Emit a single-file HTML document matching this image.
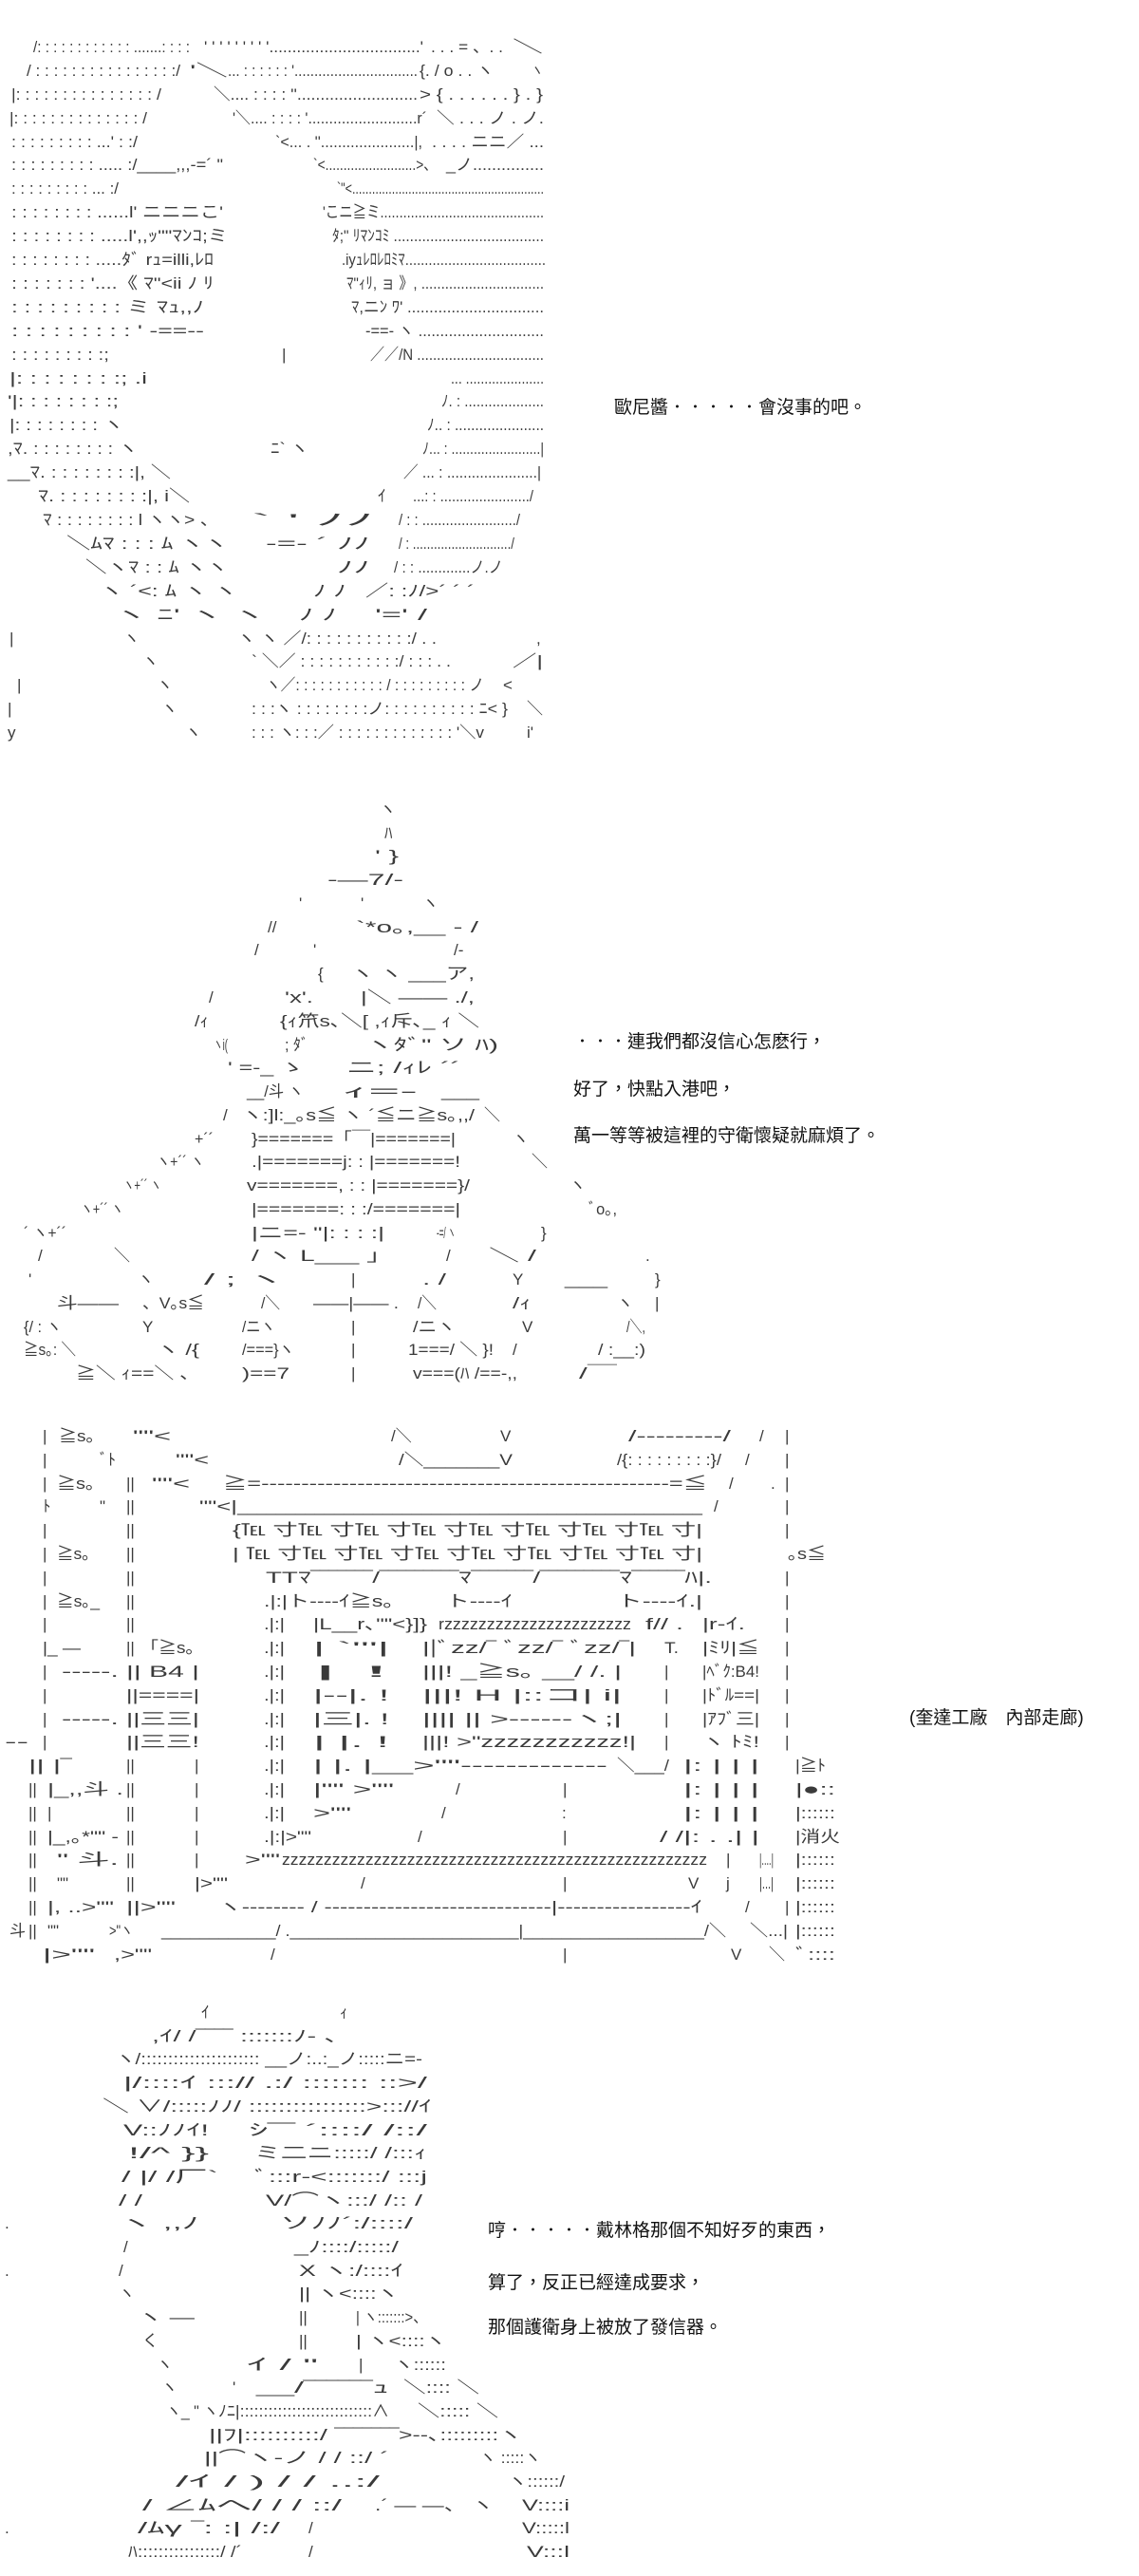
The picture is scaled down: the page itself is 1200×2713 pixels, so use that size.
<!DOCTYPE html>
<html><head><meta charset="utf-8">
<style>
html,body{margin:0;padding:0;background:#fff;}
body{width:1200px;height:2713px;position:relative;overflow:hidden;}
svg{position:absolute;left:0;top:0;}
svg text{font-family:"Liberation Sans","Noto Sans CJK JP",sans-serif;font-size:17px;fill:#3a3a3a;}
.t{position:absolute;font-family:"Liberation Sans","Noto Sans CJK TC",sans-serif;font-size:19px;color:#111;white-space:nowrap;line-height:24px;}
</style></head><body>
<svg width="1200" height="2713" xmlns="http://www.w3.org/2000/svg">
<g>
<!-- Section 1 -->
<text x="35" y="55" textLength="165" lengthAdjust="spacingAndGlyphs">/: : : : : : : : : : : : .......: : : :</text>
<text x="215" y="55" textLength="231" lengthAdjust="spacingAndGlyphs">' ' ' ' ' ' ' ' '.................................'</text>
<text x="454" y="55" textLength="76" lengthAdjust="spacingAndGlyphs">. . . = 、. .</text>
<text x="540" y="55" textLength="32" lengthAdjust="spacingAndGlyphs">＼</text>
<text x="28" y="80" textLength="162" lengthAdjust="spacingAndGlyphs">/ : : : : : : : : : : : : : : : :/</text>
<text x="200" y="80" textLength="40" lengthAdjust="spacingAndGlyphs">'＼</text>
<text x="240" y="80" textLength="200" lengthAdjust="spacingAndGlyphs">... : : : : : : '...............................</text>
<text x="442" y="80" textLength="78" lengthAdjust="spacingAndGlyphs">{. / o . .  ヽ</text>
<text x="560" y="80" textLength="12" lengthAdjust="spacingAndGlyphs">ヽ</text>
<text x="12" y="105" textLength="158" lengthAdjust="spacingAndGlyphs">|: : : : : : : : : : : : : : : /</text>
<text x="225" y="105" textLength="215" lengthAdjust="spacingAndGlyphs">＼.... : : : : ''..........................</text>
<text x="442" y="105" textLength="130" lengthAdjust="spacingAndGlyphs">&gt; {  . . . . . . } . }</text>
<text x="10" y="130" textLength="145" lengthAdjust="spacingAndGlyphs">|: : : : : : : : : : : : : : /</text>
<text x="245" y="130" textLength="205" lengthAdjust="spacingAndGlyphs">'＼.... : : : : '..........................r´</text>
<text x="460" y="130" textLength="113" lengthAdjust="spacingAndGlyphs">＼ . . . ノ . ノ.</text>
<text x="12" y="155" textLength="133" lengthAdjust="spacingAndGlyphs">: : : : : : : : : ...' : :/</text>
<text x="290" y="155" textLength="155" lengthAdjust="spacingAndGlyphs">`&lt;... . ''......................|,</text>
<text x="455" y="155" textLength="118" lengthAdjust="spacingAndGlyphs">. . . . ニニ／ ...</text>
<text x="12" y="179" textLength="223" lengthAdjust="spacingAndGlyphs">: : : : : : : : : ..... :/____,,,-=´ "</text>
<text x="330" y="179" textLength="130" lengthAdjust="spacingAndGlyphs">`&lt;.........................&gt;、</text>
<text x="470" y="179" textLength="103" lengthAdjust="spacingAndGlyphs">_ノ...............</text>
<text x="12" y="204" textLength="113" lengthAdjust="spacingAndGlyphs">: : : : : : : : : ... :/</text>
<text x="355" y="204" textLength="218" lengthAdjust="spacingAndGlyphs">`"&lt;..........................................................</text>
<text x="12" y="229" textLength="223" lengthAdjust="spacingAndGlyphs">: : : : : : : : ......l'      ニニニこ'</text>
<text x="340" y="229" textLength="233" lengthAdjust="spacingAndGlyphs">'こニ≧ミ...........................................</text>
<text x="12" y="254" textLength="228" lengthAdjust="spacingAndGlyphs">: : : : : : : : .....l',,ｯ""ﾏﾝｺ;ミ</text>
<text x="350" y="254" textLength="223" lengthAdjust="spacingAndGlyphs">ﾀ;"   ﾘﾏﾝｺﾐ .....................................</text>
<text x="12" y="279" textLength="213" lengthAdjust="spacingAndGlyphs">: : : : : : : : .....ﾀﾞ   rｭ=illi,ﾚﾛ</text>
<text x="360" y="279" textLength="215" lengthAdjust="spacingAndGlyphs">.iyｭﾚﾛﾚﾛﾐﾏ....................................</text>
<text x="12" y="304" textLength="213" lengthAdjust="spacingAndGlyphs">: : : : : : : '....《   ﾏ"&lt;ii ﾉ  ﾘ</text>
<text x="365" y="304" textLength="208" lengthAdjust="spacingAndGlyphs">ﾏ"ｨﾘ, ョ   》, ...............................</text>
<text x="12" y="329" textLength="203" lengthAdjust="spacingAndGlyphs">: : : : : : : : :      ミ   ﾏｭ,,ﾉ</text>
<text x="370" y="329" textLength="203" lengthAdjust="spacingAndGlyphs">ﾏ,ニﾝ   ﾜ' ...............................</text>
<text x="12" y="354" textLength="203" lengthAdjust="spacingAndGlyphs">: : : : : : : : :        '   -==--</text>
<text x="385" y="354" textLength="188" lengthAdjust="spacingAndGlyphs">-==-    ヽ    .............................</text>
<text x="12" y="379" textLength="103" lengthAdjust="spacingAndGlyphs">: : : : : : : : :;</text>
<text x="297" y="379">|</text>
<text x="390" y="379" textLength="183" lengthAdjust="spacingAndGlyphs">／／/N    ................................</text>
<text x="10" y="404" textLength="145" lengthAdjust="spacingAndGlyphs">|: : : : : : : :;     .i</text>
<text x="475" y="404" textLength="98" lengthAdjust="spacingAndGlyphs">...  .....................</text>
<text x="8" y="428" textLength="117" lengthAdjust="spacingAndGlyphs">'|: : : : : : : :;</text>
<text x="465" y="428" textLength="108" lengthAdjust="spacingAndGlyphs">ﾉ. :  ....................</text>
<text x="10" y="453" textLength="120" lengthAdjust="spacingAndGlyphs">|: : : : : : : : ヽ</text>
<text x="450" y="453" textLength="123" lengthAdjust="spacingAndGlyphs">ﾉ.. :  ......................</text>
<text x="8" y="478" textLength="137" lengthAdjust="spacingAndGlyphs">,ﾏ. : : : : : : : : ヽ</text>
<text x="285" y="478" textLength="40" lengthAdjust="spacingAndGlyphs">ﾆ` ヽ</text>
<text x="445" y="478" textLength="128" lengthAdjust="spacingAndGlyphs">ﾉ... : ........................|</text>
<text x="8" y="503" textLength="172" lengthAdjust="spacingAndGlyphs">__ﾏ. : : : : : : : :|, ＼</text>
<text x="425" y="503" textLength="145" lengthAdjust="spacingAndGlyphs">／  ... : ......................|</text>
<text x="40" y="528" textLength="160" lengthAdjust="spacingAndGlyphs">ﾏ. : : : : : : : :|,   i＼</text>
<text x="398" y="528">ｲ</text>
<text x="435" y="528" textLength="127" lengthAdjust="spacingAndGlyphs">...: : ......................./</text>
<text x="45" y="553" textLength="185" lengthAdjust="spacingAndGlyphs">ﾏ : : : : : : : : l    ヽヽ&gt; 、</text>
<text x="265" y="553" textLength="130" lengthAdjust="spacingAndGlyphs">`        '   ﾉﾉ</text>
<text x="420" y="553" textLength="128" lengthAdjust="spacingAndGlyphs">/ : : ......................../</text>
<text x="70" y="578" textLength="170" lengthAdjust="spacingAndGlyphs">＼ﾑﾏ : : : ﾑ    ヽヽ</text>
<text x="280" y="578" textLength="110" lengthAdjust="spacingAndGlyphs">-=-  ´   ﾉﾉ</text>
<text x="420" y="578" textLength="122" lengthAdjust="spacingAndGlyphs">/ : ............................/</text>
<text x="90" y="603" textLength="150" lengthAdjust="spacingAndGlyphs">＼ヽﾏ : : ﾑ    ヽヽ</text>
<text x="355" y="603" textLength="35" lengthAdjust="spacingAndGlyphs">ﾉﾉ</text>
<text x="415" y="603" textLength="115" lengthAdjust="spacingAndGlyphs">/ : : .............ノ.ノ</text>
<text x="105" y="628" textLength="145" lengthAdjust="spacingAndGlyphs">ヽ   ´&lt;: ﾑ ヽ ヽ</text>
<text x="330" y="628" textLength="35" lengthAdjust="spacingAndGlyphs">ﾉ ﾉ</text>
<text x="385" y="628" textLength="115" lengthAdjust="spacingAndGlyphs">／: :ﾉ/&gt;´ ´ ´</text>
<text x="120" y="653" textLength="160" lengthAdjust="spacingAndGlyphs">ヽ         ﾆ'  ヽ  ヽ</text>
<text x="315" y="653" textLength="40" lengthAdjust="spacingAndGlyphs">ﾉ ﾉ</text>
<text x="395" y="653" textLength="55" lengthAdjust="spacingAndGlyphs">'='    /</text>
<text x="10" y="678">|</text>
<text x="130" y="678">ヽ</text>
<text x="250" y="678" textLength="210" lengthAdjust="spacingAndGlyphs">ヽ  ヽ  ／/: : : : : : : : : : :/ . .</text>
<text x="565" y="678">,</text>
<text x="150" y="702">ヽ</text>
<text x="265" y="702" textLength="210" lengthAdjust="spacingAndGlyphs">` ＼／ : : : : : : : : : : :/ : : : .   .</text>
<text x="540" y="702" textLength="32" lengthAdjust="spacingAndGlyphs">／|</text>
<text x="18" y="727">|</text>
<text x="165" y="727">ヽ</text>
<text x="280" y="727" textLength="230" lengthAdjust="spacingAndGlyphs">ヽ／: : : : : : : : : : : / : : : : : : : : : ノ</text>
<text x="530" y="727">&lt;</text>
<text x="8" y="752">|</text>
<text x="170" y="752">ヽ</text>
<text x="265" y="752" textLength="270" lengthAdjust="spacingAndGlyphs">: : :ヽ : : : : : : : :ノ: : : : : : : : : : ﾆ&lt;   }</text>
<text x="555" y="752">＼</text>
<text x="8" y="777">y</text>
<text x="195" y="777">ヽ</text>
<text x="265" y="777" textLength="245" lengthAdjust="spacingAndGlyphs">: : : ヽ: : :／ : : : : : : : : : : : : : '＼v</text>
<text x="555" y="777">i'</text>

<!-- Section 2 -->
<text x="400" y="858">ヽ</text>
<text x="405" y="883">ﾊ</text>
<text x="395" y="907" textLength="25" lengthAdjust="spacingAndGlyphs">'  }</text>
<text x="345" y="932" textLength="80" lengthAdjust="spacingAndGlyphs">-―7/-</text>
<text x="315" y="957">'</text><text x="380" y="957">'</text><text x="445" y="957">ヽ</text>
<text x="282" y="982">//</text>
<text x="375" y="982" textLength="129" lengthAdjust="spacingAndGlyphs">`*o｡,__   -  /</text>
<text x="268" y="1006">/</text><text x="330" y="1006">'</text><text x="478" y="1006">/-</text>
<text x="335" y="1031">{</text>
<text x="370" y="1031" textLength="130" lengthAdjust="spacingAndGlyphs">ヽ  ヽ   ___ア,</text>
<text x="220" y="1056">/</text>
<text x="300" y="1056" textLength="30" lengthAdjust="spacingAndGlyphs">'x'.</text>
<text x="380" y="1056" textLength="120" lengthAdjust="spacingAndGlyphs">|＼    ――  ./,</text>
<text x="205" y="1081" textLength="15" lengthAdjust="spacingAndGlyphs">/ｨ</text>
<text x="295" y="1081" textLength="210" lengthAdjust="spacingAndGlyphs">{ｨ笊s､＼[  ,ｨ斥､_ ｨ  ＼</text>
<text x="225" y="1106" textLength="15" lengthAdjust="spacingAndGlyphs">ヽi(</text>
<text x="300" y="1106" textLength="25" lengthAdjust="spacingAndGlyphs">; ﾀﾞ</text>
<text x="385" y="1106" textLength="140" lengthAdjust="spacingAndGlyphs">ヽﾀﾞ" ソ    ﾊ)</text>
<text x="240" y="1130" textLength="80" lengthAdjust="spacingAndGlyphs">'  =-_ ゝ</text>
<text x="365" y="1130" textLength="120" lengthAdjust="spacingAndGlyphs">ニ;     /ｨﾚ ´´</text>
<text x="260" y="1155" textLength="60" lengthAdjust="spacingAndGlyphs">__/斗 ヽ</text>
<text x="360" y="1155" textLength="80" lengthAdjust="spacingAndGlyphs">ｨ=-</text>
<text x="465" y="1155" textLength="40" lengthAdjust="spacingAndGlyphs">___</text>
<text x="235" y="1180">/</text>
<text x="255" y="1180" textLength="245" lengthAdjust="spacingAndGlyphs">ヽ:]l:_｡s≦ ヽ ´≦ニ≧s｡,,/</text>
<text x="510" y="1180">＼</text>
<text x="205" y="1205" textLength="20" lengthAdjust="spacingAndGlyphs">+´´</text>
<text x="265" y="1205" textLength="215" lengthAdjust="spacingAndGlyphs">}=======「￣|=======|</text>
<text x="540" y="1205">ヽ</text>
<text x="165" y="1229" textLength="50" lengthAdjust="spacingAndGlyphs">ヽ+´´ ヽ</text>
<text x="265" y="1229" textLength="220" lengthAdjust="spacingAndGlyphs">.|=======j: : |=======!</text>
<text x="560" y="1229">＼</text>
<text x="130" y="1254" textLength="40" lengthAdjust="spacingAndGlyphs">ヽ+´´ ヽ</text>
<text x="260" y="1254" textLength="235" lengthAdjust="spacingAndGlyphs">v=======, : : |=======}/</text>
<text x="600" y="1254">ヽ</text>
<text x="85" y="1279" textLength="45" lengthAdjust="spacingAndGlyphs">ヽ+´´ ヽ</text>
<text x="265" y="1279" textLength="220" lengthAdjust="spacingAndGlyphs">|=======: : :/=======|</text>
<text x="620" y="1279" textLength="30" lengthAdjust="spacingAndGlyphs">ﾞo｡,</text>
<text x="25" y="1304" textLength="45" lengthAdjust="spacingAndGlyphs">´  ヽ+´´</text>
<text x="265" y="1304" textLength="140" lengthAdjust="spacingAndGlyphs">|ニ=-  "|: : : :|</text>
<text x="460" y="1304" textLength="20" lengthAdjust="spacingAndGlyphs">-=/ ヽ</text>
<text x="570" y="1304">}</text>
<text x="40" y="1328">/</text><text x="120" y="1328">＼</text>
<text x="265" y="1328" textLength="135" lengthAdjust="spacingAndGlyphs">/ ヽ    L___ ｣</text>
<text x="470" y="1328">/</text>
<text x="515" y="1328" textLength="50" lengthAdjust="spacingAndGlyphs">＼   /</text>
<text x="680" y="1328">.</text>
<text x="30" y="1353">'</text><text x="145" y="1353">ヽ</text>
<text x="215" y="1353" textLength="85" lengthAdjust="spacingAndGlyphs">/      ;  ヽ</text>
<text x="370" y="1353">|</text>
<text x="445" y="1353" textLength="25" lengthAdjust="spacingAndGlyphs">. /</text>
<text x="540" y="1353">Y</text>
<text x="595" y="1353" textLength="45" lengthAdjust="spacingAndGlyphs">___</text>
<text x="690" y="1353">}</text>
<text x="60" y="1378" textLength="65" lengthAdjust="spacingAndGlyphs">斗――</text>
<text x="150" y="1378" textLength="65" lengthAdjust="spacingAndGlyphs">、V｡s≦</text>
<text x="275" y="1378" textLength="20" lengthAdjust="spacingAndGlyphs">/＼</text>
<text x="330" y="1378" textLength="90" lengthAdjust="spacingAndGlyphs">――|――   .</text>
<text x="440" y="1378" textLength="20" lengthAdjust="spacingAndGlyphs">/＼</text>
<text x="540" y="1378" textLength="20" lengthAdjust="spacingAndGlyphs">/ｨ</text>
<text x="650" y="1378">ヽ</text><text x="690" y="1378">|</text>
<text x="25" y="1403" textLength="40" lengthAdjust="spacingAndGlyphs">{/ : ヽ</text>
<text x="150" y="1403">Y</text>
<text x="255" y="1403" textLength="35" lengthAdjust="spacingAndGlyphs">/ニヽ</text>
<text x="370" y="1403">|</text>
<text x="435" y="1403" textLength="45" lengthAdjust="spacingAndGlyphs">/ニヽ</text>
<text x="550" y="1403">V</text>
<text x="660" y="1403" textLength="20" lengthAdjust="spacingAndGlyphs">/＼,</text>
<text x="25" y="1427" textLength="55" lengthAdjust="spacingAndGlyphs">≧s｡: ＼</text>
<text x="165" y="1427" textLength="45" lengthAdjust="spacingAndGlyphs">ヽ    /{</text>
<text x="255" y="1427" textLength="55" lengthAdjust="spacingAndGlyphs">/===}ヽ</text>
<text x="370" y="1427">|</text>
<text x="430" y="1427" textLength="90" lengthAdjust="spacingAndGlyphs">1===/ ＼ }!</text>
<text x="540" y="1427">/</text>
<text x="630" y="1427" textLength="50" lengthAdjust="spacingAndGlyphs">/ :__:)</text>
<text x="80" y="1452" textLength="130" lengthAdjust="spacingAndGlyphs">≧＼   ｨ==＼  、</text>
<text x="255" y="1452" textLength="50" lengthAdjust="spacingAndGlyphs">)==7</text>
<text x="370" y="1452">|</text>
<text x="435" y="1452" textLength="110" lengthAdjust="spacingAndGlyphs">v===(ﾊ  /==-,,</text>
<text x="610" y="1452" textLength="40" lengthAdjust="spacingAndGlyphs">/￣</text>

<!-- Section 3 -->
<text x="45" y="1518">|</text><text x="62" y="1518" textLength="38" lengthAdjust="spacingAndGlyphs">≧s｡</text>
<text x="140" y="1518" textLength="40" lengthAdjust="spacingAndGlyphs">""&lt;</text>
<text x="412" y="1518">/＼</text><text x="527" y="1518">V</text>
<text x="662" y="1518" textLength="108" lengthAdjust="spacingAndGlyphs">/---------/</text>
<text x="800" y="1518">/</text><text x="827" y="1518">|</text>
<text x="45" y="1543">|</text><text x="105" y="1543">ﾞﾄ</text>
<text x="185" y="1543" textLength="35" lengthAdjust="spacingAndGlyphs">""&lt;</text>
<text x="420" y="1543" textLength="120" lengthAdjust="spacingAndGlyphs">/＼_______V</text>
<text x="650" y="1543" textLength="110" lengthAdjust="spacingAndGlyphs">/{: : : : : : : : :}/</text>
<text x="785" y="1543">/</text><text x="827" y="1543">|</text>
<text x="45" y="1568">|</text><text x="60" y="1568" textLength="40" lengthAdjust="spacingAndGlyphs">≧s｡</text>
<text x="133" y="1568">||</text>
<text x="160" y="1568" textLength="40" lengthAdjust="spacingAndGlyphs">""&lt;</text>
<text x="235" y="1568" textLength="510" lengthAdjust="spacingAndGlyphs">≧=---------------------------------------------------=≦</text>
<text x="768" y="1568">/</text><text x="812" y="1568">.</text><text x="827" y="1568">|</text>
<text x="45" y="1592">ﾄ</text><text x="105" y="1592">"</text><text x="133" y="1592">||</text>
<text x="210" y="1592" textLength="40" lengthAdjust="spacingAndGlyphs">""&lt;|</text>
<text x="250" y="1592" textLength="490" lengthAdjust="spacingAndGlyphs">________________________________________________</text>
<text x="752" y="1592">/</text><text x="827" y="1592">|</text>
<text x="45" y="1617">|</text><text x="133" y="1617">||</text>
<text x="245" y="1617" textLength="495" lengthAdjust="spacingAndGlyphs">{℡  寸℡  寸℡  寸℡  寸℡  寸℡  寸℡  寸℡  寸|</text>
<text x="827" y="1617">|</text>
<text x="45" y="1642">|</text><text x="60" y="1642" textLength="35" lengthAdjust="spacingAndGlyphs">≧s｡</text><text x="133" y="1642">||</text>
<text x="245" y="1642" textLength="495" lengthAdjust="spacingAndGlyphs">| ℡  寸℡  寸℡  寸℡  寸℡  寸℡  寸℡  寸℡  寸|</text>
<text x="830" y="1642" textLength="40" lengthAdjust="spacingAndGlyphs">｡s≦</text>
<text x="45" y="1667">|</text><text x="133" y="1667">||</text>
<text x="280" y="1667" textLength="470" lengthAdjust="spacingAndGlyphs">TTﾏ‾‾‾‾‾‾‾/‾‾‾‾‾‾‾‾‾ﾏ‾‾‾‾‾‾‾/‾‾‾‾‾‾‾‾‾ﾏ‾‾‾‾‾‾ﾊ|.</text>
<text x="827" y="1667">|</text>
<text x="45" y="1692">|</text><text x="60" y="1692" textLength="45" lengthAdjust="spacingAndGlyphs">≧s｡_</text><text x="133" y="1692">||</text>
<text x="278" y="1692" textLength="137" lengthAdjust="spacingAndGlyphs">.|:|ト----ｲ≧s｡</text>
<text x="470" y="1692" textLength="70" lengthAdjust="spacingAndGlyphs">ト----ｲ</text>
<text x="650" y="1692" textLength="90" lengthAdjust="spacingAndGlyphs">ト----ｲ.|</text>
<text x="827" y="1692">|</text>
<text x="45" y="1716">|</text><text x="133" y="1716">||</text>
<text x="278" y="1716" textLength="22" lengthAdjust="spacingAndGlyphs">.|:|</text>
<text x="330" y="1716" textLength="120" lengthAdjust="spacingAndGlyphs">|L__r､""&lt;}]}</text>
<text x="462" y="1716" textLength="203" lengthAdjust="spacingAndGlyphs">rzzzzzzzzzzzzzzzzzzzzzz</text>
<text x="680" y="1716" textLength="40" lengthAdjust="spacingAndGlyphs">f// .</text>
<text x="740" y="1716" textLength="45" lengthAdjust="spacingAndGlyphs">|r-ｲ.</text>
<text x="827" y="1716">|</text>
<text x="45" y="1741" textLength="40" lengthAdjust="spacingAndGlyphs">|_ ―</text><text x="133" y="1741">||</text>
<text x="148" y="1741" textLength="57" lengthAdjust="spacingAndGlyphs">「≧s｡</text>
<text x="278" y="1741" textLength="22" lengthAdjust="spacingAndGlyphs">.|:|</text>
<text x="330" y="1741" textLength="80" lengthAdjust="spacingAndGlyphs">|   `'''|</text>
<text x="445" y="1741" textLength="225" lengthAdjust="spacingAndGlyphs">||ﾞzz/‾ ﾞzz/‾ ﾞzz/‾|</text>
<text x="700" y="1741" textLength="15" lengthAdjust="spacingAndGlyphs">T.</text>
<text x="740" y="1741" textLength="60" lengthAdjust="spacingAndGlyphs">|ﾐﾘ|≦</text>
<text x="827" y="1741">|</text>
<text x="45" y="1766">|</text><text x="65" y="1766" textLength="60" lengthAdjust="spacingAndGlyphs">-----.</text>
<text x="133" y="1766" textLength="77" lengthAdjust="spacingAndGlyphs">|| B4 |</text>
<text x="278" y="1766" textLength="22" lengthAdjust="spacingAndGlyphs">.|:|</text>
<text x="330" y="1766" textLength="80" lengthAdjust="spacingAndGlyphs">|     !</text>
<text x="445" y="1766" textLength="210" lengthAdjust="spacingAndGlyphs">|||! _≧s｡    __/ /. |</text>
<text x="700" y="1766">|</text>
<text x="740" y="1766" textLength="60" lengthAdjust="spacingAndGlyphs">|ﾍﾞｸ:B4!</text>
<text x="827" y="1766">|</text>
<text x="45" y="1791">|</text>
<text x="133" y="1791" textLength="77" lengthAdjust="spacingAndGlyphs">||====|</text>
<text x="278" y="1791" textLength="22" lengthAdjust="spacingAndGlyphs">.|:|</text>
<text x="330" y="1791" textLength="80" lengthAdjust="spacingAndGlyphs">|--|.   !</text>
<text x="445" y="1791" textLength="210" lengthAdjust="spacingAndGlyphs">|||! H    |::コ|  i|</text>
<text x="700" y="1791">|</text>
<text x="740" y="1791" textLength="60" lengthAdjust="spacingAndGlyphs">|ﾄﾞﾙ==|</text>
<text x="827" y="1791">|</text>
<text x="45" y="1816">|</text><text x="65" y="1816" textLength="60" lengthAdjust="spacingAndGlyphs">-----.</text>
<text x="133" y="1816" textLength="77" lengthAdjust="spacingAndGlyphs">||三三|</text>
<text x="278" y="1816" textLength="22" lengthAdjust="spacingAndGlyphs">.|:|</text>
<text x="330" y="1816" textLength="80" lengthAdjust="spacingAndGlyphs">|三|.   !</text>
<text x="445" y="1816" textLength="210" lengthAdjust="spacingAndGlyphs">|||| ||   &gt;‐‐‐‐‐‐ヽ;|</text>
<text x="700" y="1816">|</text>
<text x="740" y="1816" textLength="60" lengthAdjust="spacingAndGlyphs">|ｱﾌﾞ三|</text>
<text x="827" y="1816">|</text>
<text x="5" y="1840" textLength="25" lengthAdjust="spacingAndGlyphs">--</text>
<text x="45" y="1840">|</text>
<text x="133" y="1840" textLength="77" lengthAdjust="spacingAndGlyphs">||三三!</text>
<text x="278" y="1840" textLength="22" lengthAdjust="spacingAndGlyphs">.|:|</text>
<text x="330" y="1840" textLength="80" lengthAdjust="spacingAndGlyphs">|  |.   !</text>
<text x="445" y="1840" textLength="225" lengthAdjust="spacingAndGlyphs">|||!  &gt;"zzzzzzzzzzz!|</text>
<text x="700" y="1840">|</text>
<text x="740" y="1840" textLength="60" lengthAdjust="spacingAndGlyphs">ヽ ﾄﾐ!</text>
<text x="827" y="1840">|</text>
<text x="30" y="1865" textLength="45" lengthAdjust="spacingAndGlyphs">|| |‾</text><text x="133" y="1865">||</text><text x="205" y="1865">|</text>
<text x="278" y="1865" textLength="22" lengthAdjust="spacingAndGlyphs">.|:|</text>
<text x="330" y="1865" textLength="155" lengthAdjust="spacingAndGlyphs">|  |.  |__&gt;""</text>
<text x="485" y="1865" textLength="155" lengthAdjust="spacingAndGlyphs">-------------</text>
<text x="650" y="1865" textLength="55" lengthAdjust="spacingAndGlyphs">＼___/</text>
<text x="720" y="1865" textLength="80" lengthAdjust="spacingAndGlyphs">|: |  |  |</text>
<text x="838" y="1865" textLength="32" lengthAdjust="spacingAndGlyphs">|≧ﾄ</text>
<text x="30" y="1890">||</text>
<text x="50" y="1890" textLength="80" lengthAdjust="spacingAndGlyphs">|_,,斗 .</text><text x="133" y="1890">||</text><text x="205" y="1890">|</text>
<text x="278" y="1890" textLength="22" lengthAdjust="spacingAndGlyphs">.|:|</text>
<text x="330" y="1890" textLength="85" lengthAdjust="spacingAndGlyphs">|""  &gt;""</text>
<text x="480" y="1890">/</text><text x="593" y="1890">|</text>
<text x="720" y="1890" textLength="80" lengthAdjust="spacingAndGlyphs">|: |  |  |</text>
<text x="838" y="1890" textLength="42" lengthAdjust="spacingAndGlyphs">|●::</text>
<text x="30" y="1915">||</text><text x="50" y="1915">|</text><text x="133" y="1915">||</text><text x="205" y="1915">|</text>
<text x="278" y="1915" textLength="22" lengthAdjust="spacingAndGlyphs">.|:|</text>
<text x="330" y="1915" textLength="40" lengthAdjust="spacingAndGlyphs">&gt;""</text>
<text x="465" y="1915">/</text><text x="592" y="1915">:</text>
<text x="720" y="1915" textLength="80" lengthAdjust="spacingAndGlyphs">|: |  |  |</text>
<text x="838" y="1915" textLength="42" lengthAdjust="spacingAndGlyphs">|::::::</text>
<text x="30" y="1940">||</text>
<text x="50" y="1940" textLength="75" lengthAdjust="spacingAndGlyphs">|_,｡*"" -</text><text x="133" y="1940">||</text><text x="205" y="1940">|</text>
<text x="278" y="1940" textLength="50" lengthAdjust="spacingAndGlyphs">.|:|&gt;""</text>
<text x="440" y="1940">/</text><text x="593" y="1940">|</text>
<text x="695" y="1940" textLength="25" lengthAdjust="spacingAndGlyphs">/ /</text>
<text x="720" y="1940" textLength="80" lengthAdjust="spacingAndGlyphs">|: . .|  |</text>
<text x="838" y="1940" textLength="47" lengthAdjust="spacingAndGlyphs">|消火</text>
<text x="30" y="1964">||</text>
<text x="60" y="1964" textLength="65" lengthAdjust="spacingAndGlyphs">" 斗.</text><text x="133" y="1964">||</text><text x="205" y="1964">|</text>
<text x="258" y="1964" textLength="37" lengthAdjust="spacingAndGlyphs">&gt;""</text>
<text x="297" y="1964" textLength="448" lengthAdjust="spacingAndGlyphs">zzzzzzzzzzzzzzzzzzzzzzzzzzzzzzzzzzzzzzzzzzzzzzzzzzz</text>
<text x="765" y="1964">|</text>
<text x="800" y="1964" textLength="15" lengthAdjust="spacingAndGlyphs">|....|</text>
<text x="838" y="1964" textLength="42" lengthAdjust="spacingAndGlyphs">|::::::</text>
<text x="30" y="1989">||</text><text x="60" y="1989">""</text><text x="133" y="1989">||</text>
<text x="205" y="1989" textLength="35" lengthAdjust="spacingAndGlyphs">|&gt;""</text>
<text x="380" y="1989">/</text><text x="593" y="1989">|</text>
<text x="725" y="1989">V</text><text x="765" y="1989">j</text>
<text x="800" y="1989" textLength="15" lengthAdjust="spacingAndGlyphs">|...|</text>
<text x="838" y="1989" textLength="42" lengthAdjust="spacingAndGlyphs">|::::::</text>
<text x="30" y="2014">||</text>
<text x="50" y="2014" textLength="70" lengthAdjust="spacingAndGlyphs">|, ..&gt;""</text>
<text x="133" y="2014" textLength="52" lengthAdjust="spacingAndGlyphs">||&gt;""</text>
<text x="230" y="2014" textLength="510" lengthAdjust="spacingAndGlyphs">ヽ--------  /  -----------------------------|-----------------ｲ</text>
<text x="785" y="2014">/</text><text x="827" y="2014">|</text>
<text x="838" y="2014" textLength="42" lengthAdjust="spacingAndGlyphs">|::::::</text>
<text x="10" y="2039">斗</text><text x="30" y="2039">||</text><text x="50" y="2039">""</text>
<text x="115" y="2039" textLength="25" lengthAdjust="spacingAndGlyphs">&gt;"ヽ</text>
<text x="170" y="2039" textLength="595" lengthAdjust="spacingAndGlyphs">____________/  .________________________|___________________/＼</text>
<text x="790" y="2039" textLength="40" lengthAdjust="spacingAndGlyphs">＼...|</text>
<text x="838" y="2039" textLength="42" lengthAdjust="spacingAndGlyphs">|::::::</text>
<text x="45" y="2064" textLength="55" lengthAdjust="spacingAndGlyphs">|&gt;""</text>
<text x="120" y="2064" textLength="40" lengthAdjust="spacingAndGlyphs">,&gt;""</text>
<text x="285" y="2064">/</text><text x="593" y="2064">|</text>
<text x="770" y="2064">V</text><text x="810" y="2064">＼</text>
<text x="838" y="2064" textLength="42" lengthAdjust="spacingAndGlyphs">ﾞ::::</text>

<!-- Section 4 -->
<text x="212" y="2125">ｲ</text><text x="358" y="2125">ｨ</text>
<text x="160" y="2150" textLength="210" lengthAdjust="spacingAndGlyphs">,ｲ/ /‾‾‾‾ :::::::ﾉ‐ 、</text>
<text x="122" y="2174" textLength="323" lengthAdjust="spacingAndGlyphs">ヽ/:::::::::::::::::::::: __ノ:..:_ノ:::::ニ=‐</text>
<text x="130" y="2199" textLength="320" lengthAdjust="spacingAndGlyphs">|/::::ｲ :::// .:/ :::::::          ::&gt;/</text>
<text x="108" y="2224" textLength="347" lengthAdjust="spacingAndGlyphs">＼ ∨/:::::ﾉﾉ/ ::::::::::::::::&gt;::://ｲ</text>
<text x="130" y="2249" textLength="90" lengthAdjust="spacingAndGlyphs">V::ﾉﾉｲ!</text>
<text x="262" y="2249" textLength="188" lengthAdjust="spacingAndGlyphs">ｼ‾‾   ´::::/ /::/</text>
<text x="135" y="2273" textLength="85" lengthAdjust="spacingAndGlyphs">!/^   }}</text>
<text x="268" y="2273" textLength="182" lengthAdjust="spacingAndGlyphs">ミ二ニ:::::/ /:::ｨ</text>
<text x="128" y="2298" textLength="102" lengthAdjust="spacingAndGlyphs">/ |/ /厂`</text>
<text x="268" y="2298" textLength="182" lengthAdjust="spacingAndGlyphs">ﾞ:::r-&lt;:::::::/ :::j</text>
<text x="125" y="2323" textLength="25" lengthAdjust="spacingAndGlyphs">/ /</text>
<text x="280" y="2323" textLength="165" lengthAdjust="spacingAndGlyphs">V/⌒ヽ:::/ /:: /</text>
<text x="5" y="2347">.</text>
<text x="125" y="2347" textLength="85" lengthAdjust="spacingAndGlyphs">ヽ    ,,ﾉ</text>
<text x="295" y="2347" textLength="140" lengthAdjust="spacingAndGlyphs">ソﾉﾉ´:/::::/</text>
<text x="130" y="2372">/</text>
<text x="310" y="2372" textLength="110" lengthAdjust="spacingAndGlyphs">_ﾉ::::/:::::/</text>
<text x="5" y="2397">.</text><text x="125" y="2397">/</text>
<text x="315" y="2397" textLength="110" lengthAdjust="spacingAndGlyphs">X ヽ:/::::ｲ</text>
<text x="125" y="2421">ヽ</text>
<text x="315" y="2421" textLength="105" lengthAdjust="spacingAndGlyphs">||    ヽ&lt;::::ヽ</text>
<text x="145" y="2446" textLength="60" lengthAdjust="spacingAndGlyphs">ヽ ―</text>
<text x="315" y="2446">||</text>
<text x="375" y="2446" textLength="75" lengthAdjust="spacingAndGlyphs">| ヽ:::::::&gt;、</text>
<text x="150" y="2471">く</text><text x="315" y="2471">||</text>
<text x="375" y="2471" textLength="95" lengthAdjust="spacingAndGlyphs">|   ヽ&lt;::::ヽ</text>
<text x="165" y="2496">ヽ</text>
<text x="260" y="2496" textLength="75" lengthAdjust="spacingAndGlyphs">ｲ  / "</text>
<text x="378" y="2496">|</text>
<text x="415" y="2496" textLength="55" lengthAdjust="spacingAndGlyphs">ヽ::::::</text>
<text x="170" y="2520">ヽ</text><text x="245" y="2520">'</text>
<text x="270" y="2520" textLength="140" lengthAdjust="spacingAndGlyphs">__/‾‾‾‾‾‾ｭ</text>
<text x="425" y="2520" textLength="80" lengthAdjust="spacingAndGlyphs">＼::::   ＼</text>
<text x="175" y="2545" textLength="55" lengthAdjust="spacingAndGlyphs">ヽ_ " ヽ</text>
<text x="230" y="2545" textLength="180" lengthAdjust="spacingAndGlyphs">ﾉﾆ|::::::::::::::::::::::::::::∧</text>
<text x="440" y="2545" textLength="85" lengthAdjust="spacingAndGlyphs">＼:::::  ＼</text>
<text x="220" y="2570" textLength="200" lengthAdjust="spacingAndGlyphs">||ﾌ|::::::::::/ ‾‾‾‾‾‾‾</text>
<text x="420" y="2570" textLength="130" lengthAdjust="spacingAndGlyphs">&gt;‐-､:::::::::ヽ</text>
<text x="215" y="2594" textLength="195" lengthAdjust="spacingAndGlyphs">||⌒ヽ‐ノ / /  ::/  ´</text>
<text x="505" y="2594" textLength="65" lengthAdjust="spacingAndGlyphs">ヽ :::::ヽ</text>
<text x="185" y="2619" textLength="215" lengthAdjust="spacingAndGlyphs">/ｲ / )  / / ..:/</text>
<text x="535" y="2619" textLength="60" lengthAdjust="spacingAndGlyphs">ヽ::::::/</text>
<text x="150" y="2644" textLength="210" lengthAdjust="spacingAndGlyphs">/ ∠ﾑへ/ / / ::/</text>
<text x="395" y="2644" textLength="125" lengthAdjust="spacingAndGlyphs">.´ ―    ―、 ヽ</text>
<text x="550" y="2644" textLength="50" lengthAdjust="spacingAndGlyphs">V::::i</text>
<text x="5" y="2668">.</text>
<text x="145" y="2668" textLength="150" lengthAdjust="spacingAndGlyphs">/ﾑγ ‾: :| /:/</text>
<text x="325" y="2668">/</text>
<text x="550" y="2668" textLength="50" lengthAdjust="spacingAndGlyphs">V:::::l</text>
<text x="135" y="2693" textLength="120" lengthAdjust="spacingAndGlyphs">ﾊ::::::::::::::::/ /´</text>
<text x="325" y="2693">/</text>
<text x="555" y="2693" textLength="45" lengthAdjust="spacingAndGlyphs">V:::l</text>
</g>
</svg>

<div class="t" style="left:647px;top:418px;">歐尼醬．．．．．會沒事的吧。</div>

<div class="t" style="left:604px;top:1086px;">．．．連我們都沒信心怎麽行，</div>
<div class="t" style="left:604px;top:1136px;">好了，快點入港吧，</div>
<div class="t" style="left:604px;top:1185px;">萬一等等被這裡的守衛懷疑就麻煩了。</div>

<div class="t" style="left:958px;top:1798px;">(奎達工廠　內部走廊)</div>

<div class="t" style="left:514px;top:2338px;">哼．．．．．戴林格那個不知好歹的東西，</div>
<div class="t" style="left:514px;top:2393px;">算了，反正已經達成要求，</div>
<div class="t" style="left:514px;top:2440px;">那個護衛身上被放了發信器。</div>
</body></html>
